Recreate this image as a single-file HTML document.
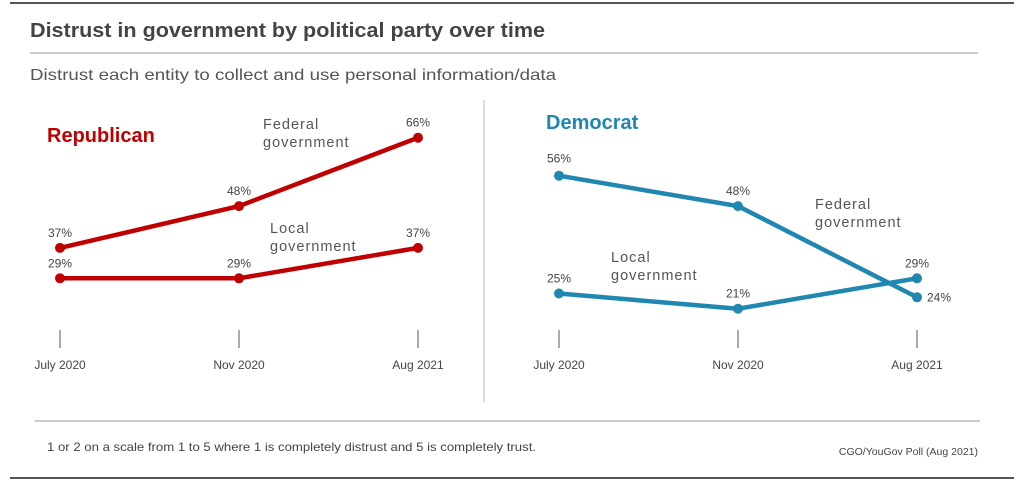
<!DOCTYPE html>
<html><head><meta charset="utf-8"><style>
body{margin:0;background:#fff;font-family:"Liberation Sans",sans-serif;}
svg text{font-family:"Liberation Sans",sans-serif;}
</style></head><body>
<svg width="1024" height="481" viewBox="0 0 1024 481">
<rect x="0" y="0" width="1024" height="481" fill="#fff"/>
<line x1="10" y1="3" x2="1014" y2="3" stroke="#555" stroke-width="2"/>
<text x="30" y="37" font-size="20" font-weight="bold" fill="#444" textLength="515" lengthAdjust="spacingAndGlyphs">Distrust in government by political party over time</text>
<line x1="30" y1="53" x2="978" y2="53" stroke="#999" stroke-width="1"/>
<text x="30" y="80" font-size="16" fill="#555" textLength="526" lengthAdjust="spacingAndGlyphs">Distrust each entity to collect and use personal information/data</text>
<line x1="484" y1="100" x2="484" y2="402" stroke="#bbb" stroke-width="1"/>
<text x="47" y="142" font-size="20" font-weight="bold" fill="#c00000">Republican</text>
<text x="546" y="129" font-size="20" font-weight="bold" fill="#1f87b0">Democrat</text>
<g id="marks"></g>
<line x1="35" y1="421" x2="980" y2="421" stroke="#999" stroke-width="1"/>
<text x="47" y="451" font-size="12" fill="#444" textLength="489" lengthAdjust="spacingAndGlyphs">1 or 2 on a scale from 1 to 5 where 1 is completely distrust and 5 is completely trust.</text>
<text x="978" y="455" font-size="10.5" fill="#444" text-anchor="end">CGO/YouGov Poll (Aug 2021)</text>
<line x1="10" y1="478" x2="1014" y2="478" stroke="#555" stroke-width="2"/>
</svg>
<script>
const categories=["July 2020","Nov 2020","Aug 2021"];
const repFederal=[37,48,66];
const repLocal=[29,29,37];
const demFederal=[56,48,24];
const demLocal=[25,21,29];
const NS="http://www.w3.org/2000/svg";
const g=document.getElementById('marks');
function y(v){return 388.5-3.8*v;}
function xr(i,off){return off+i*179;}
function mk(tag,attrs,parent){const e=document.createElementNS(NS,tag);for(const k in attrs)e.setAttribute(k,attrs[k]);(parent||g).appendChild(e);return e;}
function axis(off,prefix){
 categories.forEach((c,i)=>{
  const l=mk('line',{x1:xr(i,off),x2:xr(i,off),y1:330,y2:348,stroke:'#555','stroke-width':1});
  
  
  const t=mk('text',{x:xr(i,off),y:369,'font-size':12,fill:'#444','text-anchor':'middle'});
  t.textContent=c;
  
  
 });
}
function series(vals,off,color,name,labelPos){
 const pts=vals.map((v,i)=>xr(i,off)+','+y(v)).join(' ');
 const p=mk('polyline',{points:pts,fill:'none',stroke:color,'stroke-width':4.5,'stroke-linejoin':'round'});
 
 
 vals.forEach((v,i)=>{
  const c=mk('circle',{cx:xr(i,off),cy:y(v),r:5,fill:color});
  
  
  const lp=labelPos[i];
  const t=mk('text',{x:xr(i,off)+lp[0],y:y(v)+lp[1],'font-size':12,fill:'#444','text-anchor':'middle'});
  t.textContent=v+'%';
  
  
 });
}
axis(60,'rep');axis(559,'dem');
series(repFederal,60,'#c00000','rep-federal',[[0,-11],[0,-11],[0,-11]]);
series(repLocal,60,'#c00000','rep-local',[[0,-11],[0,-11],[0,-11]]);
series(demFederal,559,'#1f87b0','dem-federal',[[0,-13],[0,-11],[22,4]]);
series(demLocal,559,'#1f87b0','dem-local',[[0,-11],[0,-11],[0,-11]]);
function lab(x,yy,lines,name){
 const t=mk('text',{x:x,y:yy,'font-size':14.5,fill:'#555','letter-spacing':1});
 
 
 lines.forEach((s,i)=>{const ts=mk('tspan',{x:x,dy:i?18:0},t);ts.textContent=s;});
}
lab(263,129,['Federal','government'],'rep-federal-label');
lab(270,233,['Local','government'],'rep-local-label');
lab(815,209,['Federal','government'],'dem-federal-label');
lab(611,262,['Local','government'],'dem-local-label');
</script>
</body></html>
